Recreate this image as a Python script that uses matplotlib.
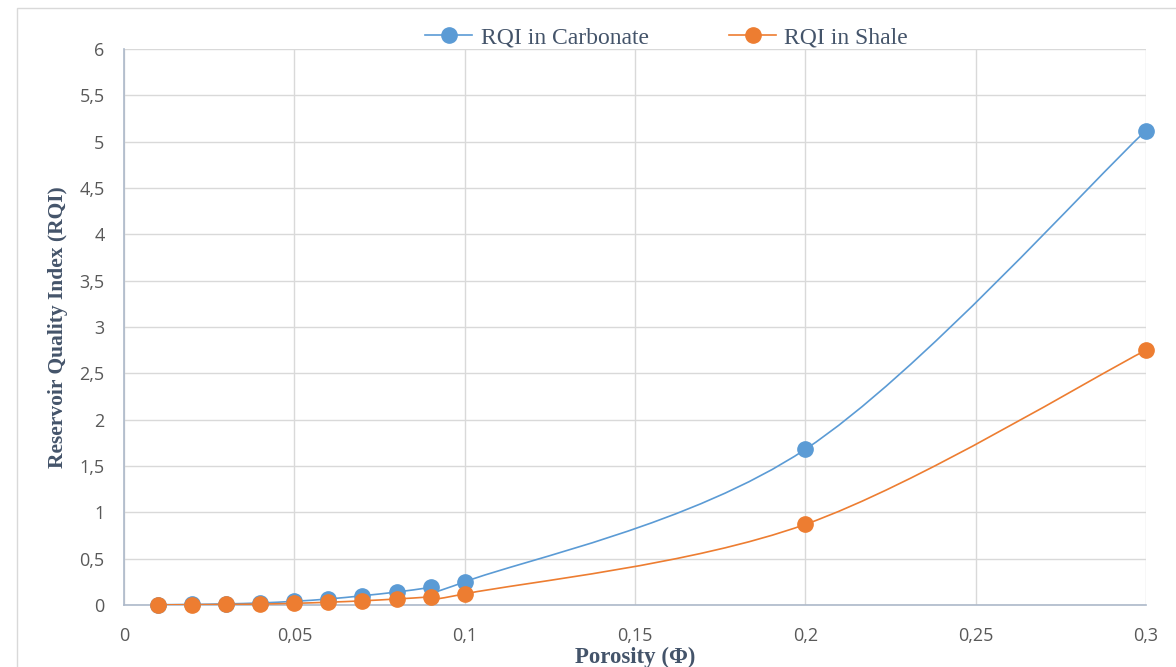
import matplotlib.pyplot as plt
import numpy as np
from matplotlib.path import Path
from matplotlib.patches import PathPatch, Rectangle
from matplotlib.lines import Line2D

# data
porosity = [0.01, 0.02, 0.03, 0.04, 0.05, 0.06, 0.07, 0.08, 0.09, 0.1, 0.2, 0.3]
rqi_carbonate = [0.003, 0.006, 0.012, 0.022, 0.04, 0.065, 0.1, 0.14, 0.19, 0.25, 1.68, 5.12]
rqi_shale = [0.001, 0.003, 0.006, 0.01, 0.018, 0.03, 0.045, 0.065, 0.088, 0.12, 0.87, 2.75]

x_ticks = [0, 0.05, 0.1, 0.15, 0.2, 0.25, 0.3]
y_ticks = [0, 0.5, 1, 1.5, 2, 2.5, 3, 3.5, 4, 4.5, 5, 5.5, 6]

BLUE = '#5B9BD5'
ORANGE = '#ED7D31'
TEXT = '#44546A'
TICK = '#595959'
GRID = '#D9D9D9'


def smooth_path(xs, ys):
    # Excel-style smoothed line: cubic Bezier segments (Catmull-Rom control points)
    pts = np.column_stack([xs, ys])
    verts = [pts[0]]
    codes = [Path.MOVETO]
    n = len(pts)
    for i in range(n - 1):
        p0 = pts[i - 1] if i > 0 else pts[i]
        p1 = pts[i]
        p2 = pts[i + 1]
        p3 = pts[i + 2] if i + 2 < n else pts[i + 1]
        c1 = p1 + (p2 - p0) / 6
        c2 = p2 - (p3 - p1) / 6
        verts += [c1, c2, p2]
        codes += [Path.CURVE4] * 3
    return Path(verts, codes)


fig = plt.figure(figsize=(11.76, 6.67), dpi=100)
ax = fig.add_axes([124 / 1176, 1 - 605 / 667, (1146 - 124) / 1176, (605 - 49) / 667])

# chart area border
fig.patches.append(Rectangle((17 / 1176, -0.05), 1.1, 1 - 8 / 667 + 0.05,
                             transform=fig.transFigure, fill=False,
                             edgecolor=GRID, linewidth=1))

for ys, col in [(rqi_carbonate, BLUE), (rqi_shale, ORANGE)]:
    ax.add_patch(PathPatch(smooth_path(porosity, ys), fill=False,
                           edgecolor=col, linewidth=1.2, zorder=3))
    ax.plot(porosity, ys, linestyle='none', marker='o', markersize=11,
            color=col, zorder=4, clip_on=False)

ax.set_xlim(0, 0.3)
ax.set_ylim(0, 6)
ax.set_xticks(x_ticks)
ax.set_yticks(y_ticks)
ax.set_xticklabels([f'{v:g}'.replace('.', ',') for v in x_ticks])
ax.set_yticklabels([f'{v:g}'.replace('.', ',') for v in y_ticks])
ax.tick_params(length=0, labelsize=13, labelcolor=TICK, pad=14)
for lab in ax.get_xticklabels() + ax.get_yticklabels():
    lab.set_family('Open Sans')
ax.tick_params(axis='x', pad=16)

ax.grid(True, color=GRID, linewidth=1)
ax.set_axisbelow(True)
for side in ['top', 'right']:
    ax.spines[side].set_visible(False)
for side in ['left', 'bottom']:
    ax.spines[side].set_color('#ADB9CA')
    ax.spines[side].set_linewidth(1.2)

ax.set_xlabel('Porosity (Φ)', family='Liberation Serif', fontweight='bold',
              fontsize=16.5, color=TEXT, labelpad=1)
ax.set_ylabel('Reservoir Quality Index (RQI)', family='Liberation Serif',
              fontweight='bold', fontsize=15.5, color=TEXT, labelpad=8)

handles = [Line2D([], [], color=BLUE, marker='o', markersize=11, linewidth=1.2),
           Line2D([], [], color=ORANGE, marker='o', markersize=11, linewidth=1.2)]
leg = ax.legend(handles, ['RQI in Carbonate', 'RQI in Shale'], ncol=2,
                loc='center', bbox_to_anchor=(0.531, 1.02), frameon=False,
                prop={'family': 'Liberation Serif', 'size': 17},
                handlelength=2.0, columnspacing=3.4, handletextpad=0.35,
                borderpad=0)
for t in leg.get_texts():
    t.set_color(TEXT)

fig.savefig('out.png', dpi=100)
